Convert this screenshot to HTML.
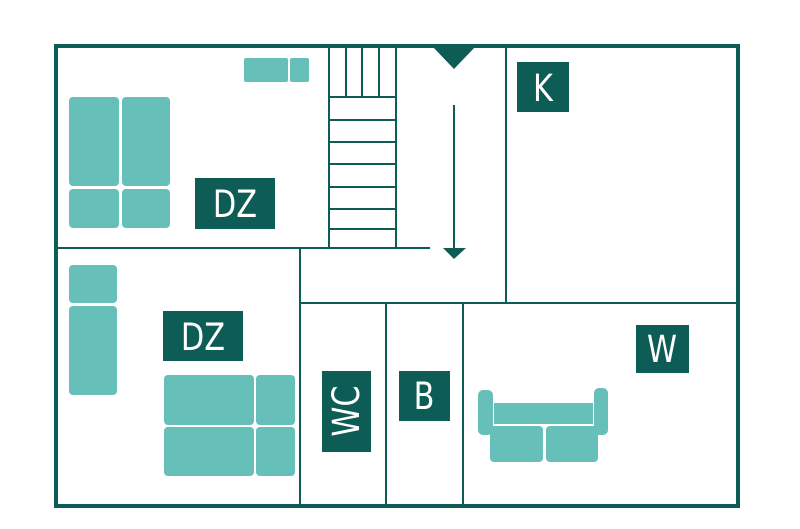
<!DOCTYPE html>
<html><head><meta charset="utf-8"><style>
html,body{margin:0;padding:0;background:#fff;width:800px;height:529px;overflow:hidden}
text{font-family:"DejaVu Sans","Liberation Sans",sans-serif;fill:#fff}
</style></head><body>
<svg width="800" height="529" viewBox="0 0 800 529" xmlns="http://www.w3.org/2000/svg">
<g fill="#66bfb9">
<rect x="244" y="58" width="44" height="24" rx="2"/><rect x="290" y="58" width="19" height="24" rx="2"/>
<rect x="69" y="97" width="50" height="89" rx="4"/><rect x="122" y="97" width="48" height="89" rx="4"/>
<rect x="69" y="189" width="50" height="39" rx="4"/><rect x="122" y="189" width="48" height="39" rx="4"/>
<rect x="69" y="265" width="48" height="38" rx="4"/><rect x="69" y="306" width="48" height="89" rx="4"/>
<rect x="164" y="375" width="90" height="50" rx="4"/><rect x="256" y="375" width="39" height="50" rx="4"/>
<rect x="164" y="427" width="90" height="49" rx="4"/><rect x="256" y="427" width="39" height="49" rx="4"/>
<rect x="478" y="390" width="15" height="45" rx="5"/><rect x="594" y="388" width="14" height="47" rx="5"/>
<rect x="494" y="403" width="99" height="21"/>
<rect x="490" y="426" width="53" height="36" rx="4"/><rect x="546" y="426" width="52" height="36" rx="4"/>
</g>
<g stroke="#0d5c55" fill="none">
<rect x="56" y="46" width="682" height="460" stroke-width="4"/>
<g stroke-width="2">
<line x1="56" y1="248" x2="430" y2="248"/>
<line x1="329" y1="46" x2="329" y2="248"/><line x1="396" y1="46" x2="396" y2="248"/>
<line x1="346" y1="46" x2="346" y2="97"/><line x1="362" y1="46" x2="362" y2="97"/><line x1="379" y1="46" x2="379" y2="97"/>
<line x1="329" y1="97" x2="396" y2="97"/><line x1="329" y1="120" x2="396" y2="120"/><line x1="329" y1="142" x2="396" y2="142"/>
<line x1="329" y1="164" x2="396" y2="164"/><line x1="329" y1="187" x2="396" y2="187"/><line x1="329" y1="209" x2="396" y2="209"/>
<line x1="329" y1="229" x2="396" y2="229"/>
<line x1="506" y1="46" x2="506" y2="303"/>
<line x1="300" y1="248" x2="300" y2="506"/>
<line x1="300" y1="303" x2="738" y2="303"/>
<line x1="386" y1="303" x2="386" y2="506"/>
<line x1="463" y1="303" x2="463" y2="506"/>
<line x1="454" y1="105" x2="454" y2="250"/>
</g>
</g>
<g fill="#0d5c55">
<polygon points="432,46 476,46 454,69"/>
<polygon points="443,248 466,248 454,259"/>
<rect x="195" y="178" width="80" height="51"/>
<rect x="163" y="311" width="80" height="50"/>
<rect x="517" y="62" width="52" height="50"/>
<rect x="636" y="325" width="53" height="48"/>
<rect x="322" y="371" width="49" height="81"/>
<rect x="399" y="371" width="51" height="50"/>
</g>
<text font-size="37" text-anchor="middle" transform="translate(235,217) scale(0.82,1)">DZ</text>
<text font-size="37" text-anchor="middle" transform="translate(203,350) scale(0.82,1)">DZ</text>
<text font-size="37" text-anchor="middle" transform="translate(543,101) scale(0.82,1)">K</text>
<text font-size="37" text-anchor="middle" transform="translate(662,362) scale(0.82,1)">W</text>
<text font-size="37" text-anchor="middle" transform="translate(424,409) scale(0.82,1)">B</text>
<text font-size="37" text-anchor="middle" transform="translate(359,411) rotate(-90) scale(0.82,1)">WC</text>
</svg>
</body></html>
